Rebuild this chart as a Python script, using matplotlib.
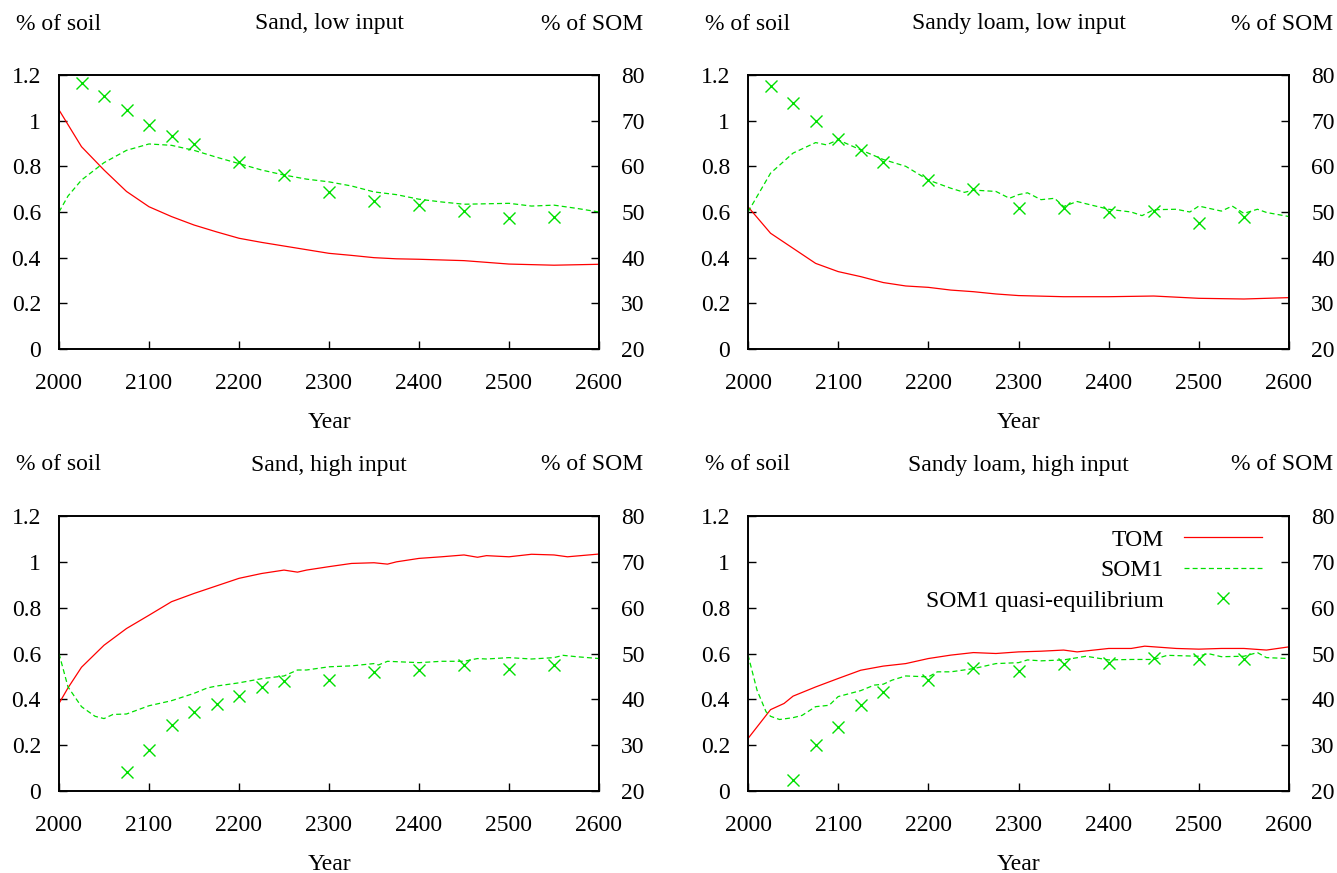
import numpy as np
import matplotlib
matplotlib.use('Agg')
import matplotlib.pyplot as plt
from matplotlib.ticker import FormatStrFormatter

plt.rcParams['font.family'] = ['Liberation Serif', 'DejaVu Serif']
plt.rcParams['font.size'] = 17

# TOM in % of soil (left axis), SOM1 in % of SOM (right axis)
titles = ["Sand, low input", "Sandy loam, low input", "Sand, high input", "Sandy loam, high input"]

# Sand, low input
tom_years_1 = [2000, 2025, 2050, 2075, 2100, 2125, 2150, 2175, 2200, 2225, 2250, 2275, 2300,
               2325, 2350, 2375, 2400, 2450, 2500, 2550, 2600]
tom_1 = [1.047, 0.886, 0.784, 0.69, 0.623, 0.58, 0.543, 0.513, 0.485, 0.467, 0.451, 0.435, 0.419,
         0.41, 0.40, 0.395, 0.393, 0.387, 0.372, 0.367, 0.371]
som_years_1 = [2000, 2010, 2025, 2050, 2075, 2100, 2125, 2150, 2175, 2200, 2225, 2250, 2275,
               2300, 2325, 2350, 2375, 2400, 2425, 2450, 2475, 2500, 2525, 2550, 2575, 2600]
som_1 = [50.0, 53.5, 57.0, 60.8, 63.5, 64.9, 64.6, 63.5, 62.0, 60.6, 59.2, 58.1, 57.2,
         56.6, 55.7, 54.4, 53.8, 52.8, 52.2, 51.7, 51.8, 51.9, 51.3, 51.5, 50.8, 50.0]
eq_years_1 = [2025, 2050, 2075, 2100, 2125, 2150, 2200, 2250, 2300, 2350, 2400, 2450, 2500, 2550]
eq_1 = [78.3, 75.3, 72.4, 69.1, 66.7, 64.9, 60.9, 58.0, 54.3, 52.5, 51.6, 50.3, 48.6, 48.8]

# Sandy loam, low input
tom_years_2 = [2000, 2025, 2050, 2075, 2100, 2125, 2150, 2175, 2200, 2225, 2250, 2275, 2300,
               2350, 2400, 2450, 2500, 2550, 2600]
tom_2 = [0.623, 0.507, 0.441, 0.375, 0.339, 0.317, 0.291, 0.276, 0.27, 0.258, 0.251, 0.241, 0.234,
         0.229, 0.229, 0.232, 0.222, 0.219, 0.225]
som_years_2 = [2000, 2025, 2050, 2075, 2087, 2100, 2125, 2150, 2175, 2200, 2225, 2240, 2250,
               2275, 2290, 2300, 2310, 2325, 2340, 2350, 2365, 2375, 2400, 2425, 2437, 2450,
               2475, 2490, 2500, 2525, 2537, 2550, 2565, 2575, 2600]
som_2 = [50.0, 58.5, 62.9, 65.2, 64.7, 65.8, 63.6, 61.5, 60.0, 57.0, 55.2, 54.3, 54.8,
         54.5, 53.0, 53.8, 54.2, 52.7, 53.0, 51.2, 52.3, 51.8, 50.6, 50.0, 49.2, 50.5,
         50.6, 50.0, 51.3, 50.2, 51.3, 49.7, 50.6, 49.9, 49.0]
eq_years_2 = [2025, 2050, 2075, 2100, 2125, 2150, 2200, 2250, 2300, 2350, 2400, 2450, 2500, 2550]
eq_2 = [77.6, 73.8, 70.0, 66.0, 63.5, 61.0, 57.0, 55.0, 50.8, 50.8, 49.9, 50.3, 47.5, 48.8]

# Sand, high input
tom_years_3 = [2000, 2010, 2025, 2050, 2075, 2100, 2125, 2150, 2175, 2200, 2225, 2250, 2265,
               2275, 2300, 2325, 2350, 2365, 2375, 2400, 2425, 2450, 2465, 2475, 2500, 2525,
               2550, 2565, 2600]
tom_3 = [0.382, 0.45, 0.54, 0.636, 0.709, 0.767, 0.826, 0.862, 0.895, 0.928, 0.949, 0.964, 0.955,
         0.964, 0.979, 0.993, 0.996, 0.99, 1.0, 1.015, 1.022, 1.03, 1.02, 1.027, 1.022, 1.033,
         1.03, 1.022, 1.034]
som_years_3 = [2000, 2010, 2025, 2040, 2050, 2060, 2075, 2100, 2125, 2150, 2165, 2175, 2200,
               2225, 2250, 2265, 2275, 2300, 2325, 2350, 2355, 2365, 2400, 2425, 2450, 2465,
               2475, 2500, 2525, 2550, 2560, 2575, 2600]
som_3 = [50.0, 42.7, 38.4, 36.3, 35.8, 36.7, 36.8, 38.6, 39.7, 41.3, 42.5, 42.9, 43.6,
         44.5, 45.1, 46.4, 46.4, 47.1, 47.3, 47.8, 47.5, 48.3, 48.0, 48.3, 48.3, 48.9,
         48.8, 49.1, 48.8, 49.1, 49.6, 49.3, 48.9]
eq_years_3 = [2075, 2100, 2125, 2150, 2175, 2200, 2225, 2250, 2300, 2350, 2400, 2450, 2500, 2550]
eq_3 = [24.2, 28.9, 34.5, 37.3, 38.9, 40.8, 42.6, 44.0, 44.2, 45.9, 46.4, 47.4, 46.7, 47.5]

# Sandy loam, high input
tom_years_4 = [2000, 2025, 2040, 2050, 2075, 2100, 2125, 2150, 2175, 2200, 2225, 2250, 2275,
               2300, 2325, 2350, 2365, 2400, 2425, 2440, 2475, 2500, 2525, 2550, 2575, 2600]
tom_4 = [0.229, 0.355, 0.382, 0.414, 0.454, 0.491, 0.527, 0.545, 0.556, 0.578, 0.593, 0.604, 0.600,
         0.607, 0.61, 0.615, 0.607, 0.622, 0.622, 0.632, 0.622, 0.619, 0.622, 0.622, 0.615, 0.629]
som_years_4 = [2000, 2010, 2020, 2025, 2035, 2050, 2060, 2075, 2090, 2100, 2125, 2140, 2150,
               2160, 2175, 2200, 2210, 2225, 2250, 2275, 2300, 2310, 2325, 2350, 2375, 2400,
               2425, 2450, 2465, 2500, 2510, 2525, 2550, 2565, 2575, 2600]
som_4 = [49.7, 42.0, 37.3, 36.3, 35.6, 36.0, 36.5, 38.4, 38.7, 40.6, 41.9, 43.1, 43.3,
         44.2, 45.1, 44.9, 46.0, 46.0, 46.7, 47.8, 48.0, 48.6, 48.4, 48.6, 49.4, 48.6,
         48.7, 48.7, 49.6, 49.4, 50.0, 49.3, 49.4, 50.2, 49.1, 48.9]
eq_years_4 = [2050, 2075, 2100, 2125, 2150, 2200, 2250, 2300, 2350, 2400, 2450, 2500, 2550]
eq_4 = [22.5, 30.0, 34.0, 38.7, 41.5, 44.2, 46.8, 46.2, 47.8, 47.9, 49.0, 48.8, 48.8]

panels = [
    (tom_years_1, tom_1, som_years_1, som_1, eq_years_1, eq_1),
    (tom_years_2, tom_2, som_years_2, som_2, eq_years_2, eq_2),
    (tom_years_3, tom_3, som_years_3, som_3, eq_years_3, eq_3),
    (tom_years_4, tom_4, som_years_4, som_4, eq_years_4, eq_4),
]

red = '#ff0000'
green = '#00e000'

W, H = 1337, 873
fig = plt.figure(figsize=(W / 100, H / 100), dpi=100)

# axes boxes in pixels: left, top, right, bottom
boxes = [(59, 75, 599, 349), (748, 75, 1289, 349),
         (59, 516, 599, 791), (748, 516, 1289, 791)]

for i, (box, data) in enumerate(zip(boxes, panels)):
    l, t, r, b = box
    ax = fig.add_axes([l / W, 1 - b / H, (r - l) / W, (b - t) / H])
    ax2 = ax.twinx()
    ty, tv, sy, sv, ey, ev = data

    h1, = ax.plot(ty, tv, color=red, lw=0.9, label='TOM')
    h2, = ax2.plot(sy, sv, color=green, lw=0.9, dashes=(4, 2.5), label='SOM1')
    h3, = ax2.plot(ey, ev, ls='none', marker='x', ms=8, mew=1.0, color=green,
                   label='SOM1 quasi-equilibrium')

    ax.set_xlim(2000, 2600)
    ax.set_ylim(0, 1.2)
    ax2.set_ylim(20, 80)
    ax.set_xticks(np.arange(2000, 2601, 100))
    ax.set_yticks(np.arange(0, 1.21, 0.2))
    ax2.set_yticks(np.arange(20, 81, 10))
    ax.yaxis.set_major_formatter(FormatStrFormatter('%g'))
    ax.tick_params(axis='both', direction='in', length=6, width=1)
    ax.tick_params(axis='y', pad=13)
    ax.tick_params(axis='x', pad=17)
    ax2.tick_params(axis='y', direction='in', length=6, width=1, pad=16)
    for sp in ax.spines.values():
        sp.set_linewidth(1.2)
    for sp in ax2.spines.values():
        sp.set_linewidth(1.2)

    ax.set_xlabel('Year', labelpad=13)
    ytxt = 1 + 51 / (b - t)
    ax.text(0.0, ytxt, '% of soil', transform=ax.transAxes, ha='center', va='center')
    ax.text(0.5, ytxt, titles[i], transform=ax.transAxes, ha='center', va='center')
    ax.text(1 + 44 / (r - l), ytxt, '% of SOM', transform=ax.transAxes, ha='right', va='center')

    if i == 3:
        ax2.legend([h1, h2, h3], ['TOM', 'SOM1', 'SOM1 quasi-equilibrium'],
                   loc='upper right', bbox_to_anchor=(0.95, 0.952), frameon=False,
                   markerfirst=False, handlelength=3.3, handletextpad=0.85,
                   labelspacing=0.38, borderpad=0, borderaxespad=0)

fig.savefig('out.png', dpi=100)
